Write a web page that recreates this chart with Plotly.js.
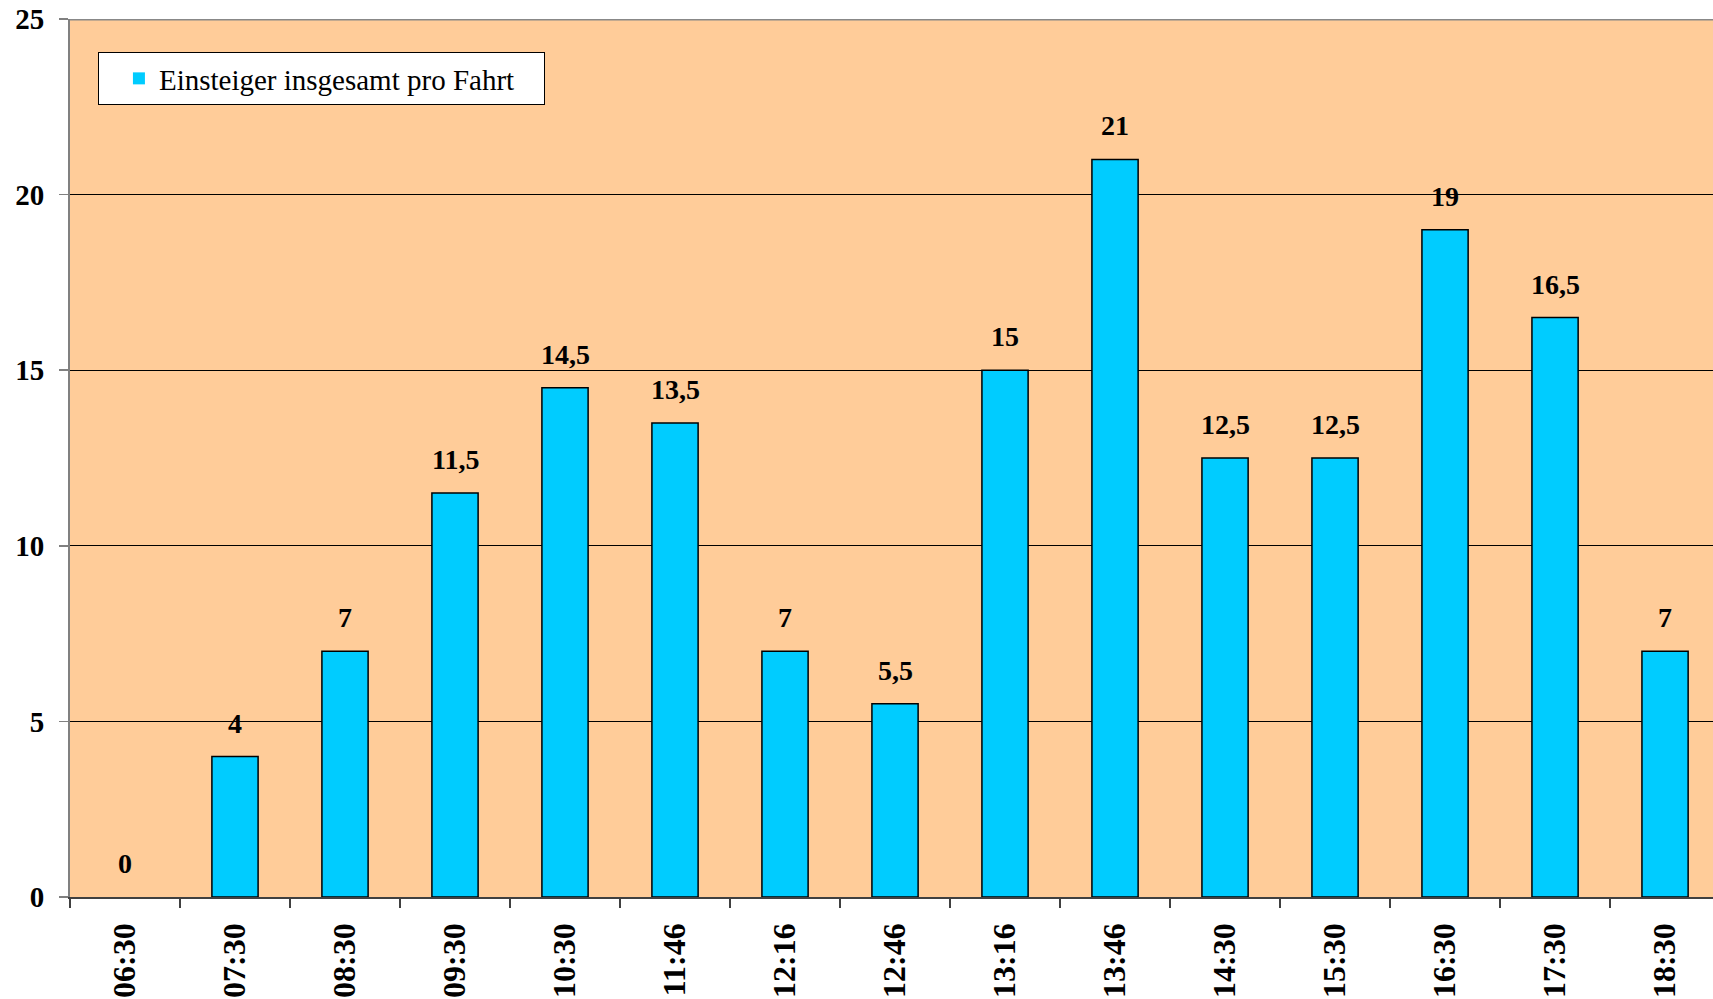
<!DOCTYPE html>
<html>
<head>
<meta charset="utf-8">
<script src="https://cdn.plot.ly/plotly-3.0.1.min.js"></script>
<style>html,body{margin:0;padding:0;background:#fff;}#chart{width:1713px;height:999px;}</style>
</head>
<body>
<div id="chart"></div>
<script>
const categories = ["06:30","07:30","08:30","09:30","10:30","11:46","12:16","12:46","13:16","13:46","14:30","15:30","16:30","17:30","18:30"];
const values = [0, 4, 7, 11.5, 14.5, 13.5, 7, 5.5, 15, 21, 12.5, 12.5, 19, 16.5, 7];
const seriesName = "Einsteiger insgesamt pro Fahrt";
const yTicks = [0, 5, 10, 15, 20, 25];

const serif = "Liberation Serif";

const trace = {
  type: "bar",
  x: categories,
  y: values,
  name: seriesName,
  width: 0.42,
  marker: {
    color: "#00CCFF",
    line: {color: "#000000", width: values.map(v => v === 0 ? 0 : 1.5)}
  },
  hoverinfo: "x+y"
};

const labelAnnotations = categories.map((c, i) => ({
  x: c, y: values[i], xref: "x", yref: "y",
  text: String(values[i]).replace(".", ","),
  showarrow: false, yanchor: "bottom", yshift: 16,
  font: {family: serif, size: 28, color: "#000", weight: 700}
}));

const layout = {
  width: 1713, height: 999,
  margin: {l: 70, r: 0, t: 19, b: 102, pad: 0},
  paper_bgcolor: "#ffffff",
  plot_bgcolor: "#FFCC99",
  separators: ",.",
  showlegend: true,
  legend: {
    x: 0.017, y: 0.9624, xanchor: "left", yanchor: "top",
    orientation: "h",
    indentation: 20,
    entrywidth: 380, entrywidthmode: "pixels",
    bgcolor: "#ffffff", bordercolor: "#000000", borderwidth: 1,
    font: {family: serif, size: 29, color: "#000"}
  },
  xaxis: {
    type: "category",
    range: [-0.5, 14.436],
    tickson: "boundaries",
    ticks: "outside", ticklen: 9, tickcolor: "#404040", tickwidth: 1.5,
    tickangle: -90,
    ticklabelstandoff: 12,
    tickfont: {family: serif, size: 32, color: "#000", weight: 700},
    showline: true, linecolor: "#404040", linewidth: 1.5,
    showgrid: false, zeroline: false, automargin: false, fixedrange: true
  },
  yaxis: {
    range: [0, 25],
    tickvals: yTicks,
    ticks: "outside", ticklen: 9, tickcolor: "#808080", tickwidth: 1.5,
    ticklabelstandoff: 9,
    tickfont: {family: serif, size: 29, color: "#000", weight: 700},
    showline: true, linecolor: "#808080", linewidth: 2,
    showgrid: true, gridcolor: "#000000", gridwidth: 1,
    zeroline: false, automargin: false, fixedrange: true
  },
  shapes: [{
    type: "line", xref: "paper", yref: "y", x0: 0, x1: 1, y0: 25, y1: 25,
    line: {color: "#888888", width: 3}, layer: "above"
  }],
  annotations: labelAnnotations
};

Plotly.newPlot("chart", [trace], layout, {displayModeBar: false, staticPlot: true});
</script>
</body>
</html>
